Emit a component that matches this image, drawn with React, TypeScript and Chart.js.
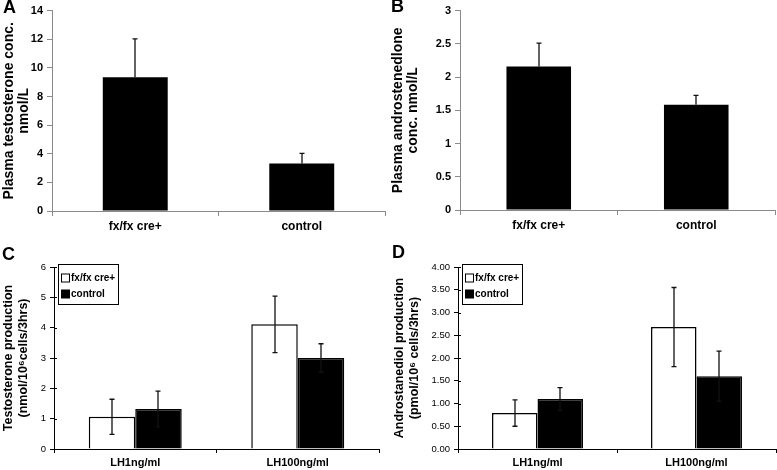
import React, { useEffect, useRef } from 'react';
import { Chart, registerables } from 'chart.js';

Chart.register(...registerables);

// ---------- data ----------
const plasmaGroups = ['fx/fx cre+', 'control'];
const plasmaTestosterone = [9.35, 3.32];
const plasmaTestosteroneErr = [2.67, 0.7];
const plasmaAndrostenedione = [2.16, 1.585];
const plasmaAndrostenedioneErr = [0.35, 0.14];

const lhDoses = ['LH1ng/ml', 'LH100ng/ml'];
const seriesNames = ['fx/fx cre+', 'control'];
const testoProdKO = [1.06, 4.11];
const testoProdKOErr = [0.58, 0.93];
const testoProdCtl = [1.32, 3.0];
const testoProdCtlErr = [0.59, 0.47];
const diolProdKO = [0.79, 2.68];
const diolProdKOErr = [0.29, 0.87];
const diolProdCtl = [1.1, 1.6];
const diolProdCtlErr = [0.25, 0.55];

const FONT = "'Liberation Sans', Arial, sans-serif";

// ---------- plugins ----------
const errorBars = {
  id: 'errorBars',
  afterDatasetsDraw(chart: any, _a: any, opts: any) {
    const ctx = chart.ctx;
    const ys = chart.scales.y;
    const cap = opts.cap ?? 2.5;
    ctx.save();
    ctx.strokeStyle = opts.color || '#000';
    ctx.lineWidth = opts.lineWidth || 1.3;
    chart.data.datasets.forEach((ds: any, i: number) => {
      const meta = chart.getDatasetMeta(i);
      meta.data.forEach((bar: any, j: number) => {
        const v = ds.data[j];
        const e = ds.errors[j];
        const top = ys.getPixelForValue(v + e);
        const bottom = ys.getPixelForValue(opts.bothSides ? v - e : v);
        const x = Math.round(bar.x);
        ctx.beginPath();
        ctx.moveTo(x, top);
        ctx.lineTo(x, bottom);
        ctx.moveTo(x - cap, top);
        ctx.lineTo(x + cap, top);
        if (opts.bothSides) {
          ctx.moveTo(x - cap, bottom);
          ctx.lineTo(x + cap, bottom);
        }
        ctx.stroke();
      });
    });
    ctx.restore();
  },
};

const yTitle = {
  id: 'yTitle',
  afterDraw(chart: any, _a: any, opts: any) {
    const ctx = chart.ctx;
    const a = chart.chartArea;
    const cy = (a.top + a.bottom) / 2 + (opts.dy || 0);
    ctx.save();
    ctx.font = opts.font;
    ctx.fillStyle = '#000';
    ctx.textAlign = 'center';
    ctx.textBaseline = 'middle';
    (opts.lines || []).forEach((l: any) => {
      ctx.save();
      ctx.translate(l.x, cy);
      ctx.rotate(-Math.PI / 2);
      ctx.fillText(l.text, 0, 0);
      ctx.restore();
    });
    ctx.restore();
  },
};

const boxLegend = {
  id: 'boxLegend',
  afterDraw(chart: any, _a: any, opts: any) {
    const ctx = chart.ctx;
    const a = chart.chartArea;
    const x0 = Math.round(a.left + opts.dx);
    const y0 = Math.round(a.top + opts.dy);
    ctx.save();
    ctx.fillStyle = '#fff';
    ctx.fillRect(x0, y0, opts.w, opts.h);
    ctx.strokeStyle = '#000';
    ctx.lineWidth = 1;
    ctx.strokeRect(x0 + 0.5, y0 + 0.5, opts.w, opts.h);
    ctx.font = opts.font;
    ctx.textBaseline = 'middle';
    ctx.textAlign = 'left';
    chart.data.datasets.forEach((ds: any, i: number) => {
      const cy = y0 + opts.rows[i];
      ctx.fillStyle = ds.backgroundColor;
      ctx.fillRect(x0 + 3.5, cy - 4, 8, 8);
      ctx.strokeStyle = '#000';
      ctx.strokeRect(x0 + 3.5, cy - 4, 8, 8);
      ctx.fillStyle = '#000';
      ctx.fillText(ds.label, x0 + 13, cy + 0.5);
    });
    ctx.restore();
  },
};

const innerTicks = {
  id: 'innerTicks',
  afterDraw(chart: any) {
    const ctx = chart.ctx;
    const ys = chart.scales.y;
    const a = chart.chartArea;
    ctx.save();
    ctx.strokeStyle = '#000';
    ctx.lineWidth = 1;
    ys.ticks.forEach((_t: any, i: number) => {
      const y = Math.round(ys.getPixelForTick(i)) + 0.5;
      ctx.beginPath();
      ctx.moveTo(a.left, y);
      ctx.lineTo(a.left + 3, y);
      ctx.stroke();
    });
    ctx.restore();
  },
};

// ---------- config builders ----------
function plasmaConfig(opts: {
  labels: string[];
  values: number[];
  errors: number[];
  max: number;
  step: number;
  yWidth: number;
  xHeight: number;
  padRight: number;
  padTop: number;
  barPct: number;
  titleLines: any[];
}) {
  const axisColor = '#8a8a8a';
  return {
    type: 'bar',
    data: {
      labels: opts.labels,
      datasets: [
        {
          label: 'value',
          data: opts.values,
          errors: opts.errors,
          backgroundColor: '#000',
          borderWidth: 0,
          categoryPercentage: 1,
          barPercentage: opts.barPct,
        },
      ],
    },
    options: {
      responsive: false,
      animation: false,
      devicePixelRatio: 1,
      layout: { padding: { left: 0, top: opts.padTop, right: opts.padRight, bottom: 0 } },
      plugins: {
        legend: { display: false },
        tooltip: { enabled: false },
        errorBars: { bothSides: false, color: '#111', lineWidth: 1.3, cap: 2.5 },
        yTitle: { font: `bold 14px ${FONT}`, lines: opts.titleLines, dy: 0 },
      },
      scales: {
        x: {
          ticks: { color: '#000', font: { family: FONT, size: 12, weight: 'bold' }, padding: 3 },
          grid: { drawOnChartArea: false, tickLength: 5, color: axisColor, offset: true },
          border: { color: axisColor, width: 1 },
          afterFit: (s: any) => {
            s.height = opts.xHeight;
          },
        },
        y: {
          min: 0,
          max: opts.max,
          ticks: {
            stepSize: opts.step,
            color: '#000',
            font: { family: FONT, size: 11, weight: 'bold' },
            padding: 4,
            callback: (v: any) => String(Number(v)),
          },
          grid: { drawOnChartArea: false, tickLength: 5, color: axisColor },
          border: { color: axisColor, width: 1 },
          afterFit: (s: any) => {
            s.width = opts.yWidth;
          },
        },
      },
    },
    plugins: [errorBars, yTitle],
  };
}

function productionConfig(opts: {
  ko: number[];
  koErr: number[];
  ctl: number[];
  ctlErr: number[];
  max: number;
  step: number;
  decimals: number;
  yWidth: number;
  xHeight: number;
  padRight: number;
  padTop: number;
  catPct: number;
  titleLines: any[];
}) {
  const axisColor = '#000';
  return {
    type: 'bar',
    data: {
      labels: lhDoses,
      datasets: [
        {
          label: seriesNames[0],
          data: opts.ko,
          errors: opts.koErr,
          backgroundColor: '#fff',
          borderColor: '#000',
          borderWidth: 1.5,
          categoryPercentage: opts.catPct,
          barPercentage: 1,
        },
        {
          label: seriesNames[1],
          data: opts.ctl,
          errors: opts.ctlErr,
          backgroundColor: '#000',
          borderColor: '#000',
          borderWidth: 1.5,
          categoryPercentage: opts.catPct,
          barPercentage: 1,
        },
      ],
    },
    options: {
      responsive: false,
      animation: false,
      devicePixelRatio: 1,
      layout: { padding: { left: 0, top: opts.padTop, right: opts.padRight, bottom: 0 } },
      plugins: {
        legend: { display: false },
        tooltip: { enabled: false },
        errorBars: { bothSides: true, color: '#111', lineWidth: 1.3, cap: 2.5 },
        yTitle: { font: `bold 12.5px ${FONT}`, lines: opts.titleLines, dy: 0 },
        boxLegend: { dx: 4, dy: -3, w: 60, h: 40, rows: [14, 30], font: `bold 10px ${FONT}` },
      },
      scales: {
        x: {
          ticks: { color: '#000', font: { family: FONT, size: 11, weight: 'bold' }, padding: 3 },
          grid: { drawOnChartArea: false, tickLength: 4, color: axisColor, offset: true },
          border: { color: axisColor, width: 1 },
          afterFit: (s: any) => {
            s.height = opts.xHeight;
          },
        },
        y: {
          min: 0,
          max: opts.max,
          ticks: {
            stepSize: opts.step,
            color: '#000',
            font: { family: FONT, size: 9.5 },
            padding: 4,
            callback: (v: any) => Number(v).toFixed(opts.decimals),
          },
          grid: { drawOnChartArea: false, tickLength: 4, color: axisColor },
          border: { color: axisColor, width: 1 },
          afterFit: (s: any) => {
            s.width = opts.yWidth;
          },
        },
      },
    },
    plugins: [errorBars, yTitle, boxLegend, innerTicks],
  };
}

// ---------- components ----------
function Panel(props: { config: any; left: number; top: number; width: number; height: number }) {
  const ref = useRef<HTMLCanvasElement>(null);
  useEffect(() => {
    const chart = new Chart(ref.current as HTMLCanvasElement, props.config);
    return () => chart.destroy();
  }, []);
  return (
    <canvas
      ref={ref}
      width={props.width}
      height={props.height}
      style={{ position: 'absolute', left: props.left, top: props.top, width: props.width, height: props.height }}
    />
  );
}

function Letter(props: { text: string; left: number; top: number }) {
  return (
    <div
      style={{
        position: 'absolute',
        left: props.left,
        top: props.top,
        fontFamily: FONT,
        fontWeight: 'bold',
        fontSize: 18,
        lineHeight: '18px',
        color: '#000',
      }}
    >
      {props.text}
    </div>
  );
}

export default function App() {
  const configA = plasmaConfig({
    labels: plasmaGroups,
    values: plasmaTestosterone,
    errors: plasmaTestosteroneErr,
    max: 14,
    step: 2,
    yWidth: 52,
    xHeight: 29,
    padRight: 5,
    padTop: 10,
    barPct: 0.39,
    titleLines: [
      { text: 'Plasma testosterone conc.', x: 9 },
      { text: 'nmol/L', x: 24 },
    ],
  });
  const configB = plasmaConfig({
    labels: plasmaGroups,
    values: plasmaAndrostenedione,
    errors: plasmaAndrostenedioneErr,
    max: 3,
    step: 0.5,
    yWidth: 70,
    xHeight: 30,
    padRight: 2,
    padTop: 10,
    barPct: 0.41,
    titleLines: [
      { text: 'Plasma androstenedlone', x: 8 },
      { text: 'conc. nmol/L', x: 23 },
    ],
  });
  const configC = productionConfig({
    ko: testoProdKO,
    koErr: testoProdKOErr,
    ctl: testoProdCtl,
    ctlErr: testoProdCtlErr,
    max: 6,
    step: 1,
    decimals: 0,
    yWidth: 54,
    xHeight: 21,
    padRight: 11,
    padTop: 27,
    catPct: 0.572,
    titleLines: [
      { text: 'Testosterone production', x: 9 },
      { text: '(nmol/10\u2076cells/3hrs)', x: 24 },
    ],
  });
  const configD = productionConfig({
    ko: diolProdKO,
    koErr: diolProdKOErr,
    ctl: diolProdCtl,
    ctlErr: diolProdCtlErr,
    max: 4,
    step: 0.5,
    decimals: 2,
    yWidth: 68,
    xHeight: 21,
    padRight: 1,
    padTop: 27,
    catPct: 0.572,
    titleLines: [
      { text: 'Androstanediol production', x: 10 },
      { text: '(pmol/10\u2076 cells/3hrs)', x: 25 },
    ],
  });

  return (
    <div style={{ position: 'fixed', left: 0, top: 0, width: 777, height: 470, background: '#fff', overflow: 'hidden' }}>
      <Panel config={configA} left={0} top={0} width={390} height={240} />
      <Panel config={configB} left={390} top={0} width={387} height={240} />
      <Panel config={configC} left={0} top={240} width={390} height={230} />
      <Panel config={configD} left={390} top={240} width={387} height={230} />
      <Letter text="A" left={3} top={-2} />
      <Letter text="B" left={391} top={-3} />
      <Letter text="C" left={2} top={245} />
      <Letter text="D" left={392} top={243} />
    </div>
  );
}
